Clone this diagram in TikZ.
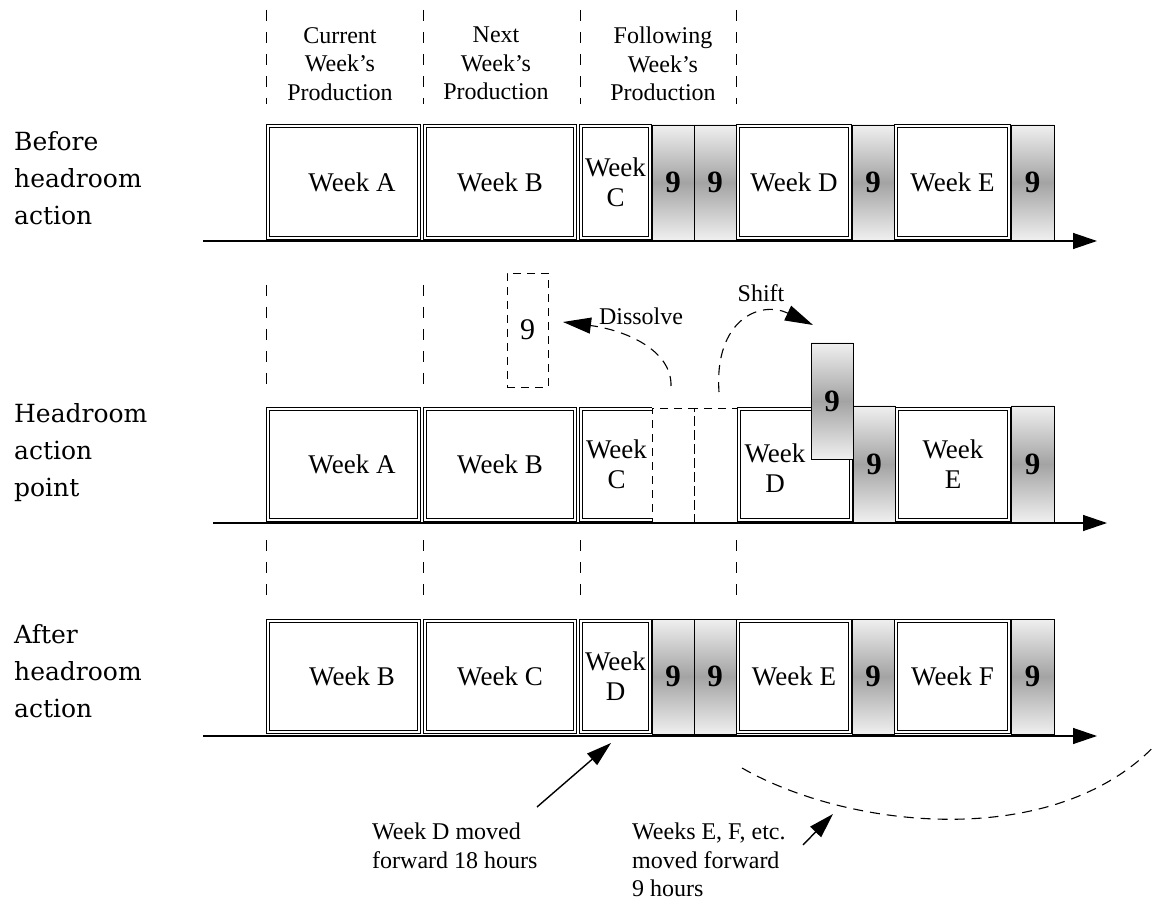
\documentclass[tikz,border=0pt]{standalone}
\usepackage{fontspec}
\setmainfont{Liberation Serif}
\newfontfamily\rowfont{DejaVu Serif}
\usetikzlibrary{arrows.meta}
\begin{document}
\begin{tikzpicture}[x=1pt,y=-1pt,
  wk/.style={draw, line width=0.9pt, double, double distance=2.4pt, anchor=north west, inner sep=0pt, outer sep=0pt, align=center, font=\fontsize{27}{30}\selectfont},
  dbl/.style={draw, line width=0.9pt, double, double distance=2.4pt},
  nine/.style={draw, line width=0.9pt, anchor=north west, inner sep=0pt, outer sep=0pt, top color=gray!12, bottom color=gray!12, middle color=gray!72, font=\fontsize{31}{32}\selectfont\bfseries},
  ghost/.style={draw, dash pattern=on 8pt off 6pt, line width=0.9pt, anchor=north west, inner sep=0pt, outer sep=0pt, font=\fontsize{30}{32}\selectfont},
  guide/.style={draw, dash pattern=on 11pt off 11pt, line width=0.7pt},
  axis/.style={draw, line width=1.3pt, -{Triangle[length=24pt,width=16pt]}},
  rowlabel/.style={anchor=north west, align=left, font=\rowfont\fontsize{25}{37}\selectfont, inner sep=0pt},
  head/.style={anchor=north, align=center, font=\fontsize{24}{28.5}\selectfont, inner sep=0pt},
  note/.style={anchor=north west, align=left, font=\fontsize{24}{28.5}\selectfont, inner sep=0pt},
  txt/.style={inner sep=0pt, align=center, font=\fontsize{27}{30}\selectfont},
  small/.style={inner sep=0pt, font=\fontsize{24}{28}\selectfont},
  curvy/.style={draw, dash pattern=on 10pt off 7pt, line width=1.1pt},
  ctip/.style={-{Triangle[length=28pt,width=16pt]}},
  pointer/.style={draw, line width=1.4pt, -{Triangle[length=25pt,width=15pt]}}
]
\useasboundingbox (0,0) rectangle (1152,901);

% ---------- guide lines ----------
\foreach \gx in {266,423,580,736} {
  \path[guide] (\gx,10) -- (\gx,104);
  \path[guide] (\gx,540) -- (\gx,600);
}
\foreach \gx in {266,423} {
  \path[guide] (\gx,285) -- (\gx,392);
}

% ---------- headers ----------
\node[head] (h1) at (340,27) {Current\\Week's\\Production};
\node[head] (h2) at (496,27) {Next\\Week's\\Production};
\node[head] (h3) at (663,27) {Following\\Week's\\Production};

% ---------- row labels ----------
\node[rowlabel] (l1) at (14,131) {Before\\headroom\\action};
\node[rowlabel] (l2) at (14,403) {Headroom\\action\\point};
\node[rowlabel] (l3) at (14,624) {After\\headroom\\action};

% ---------- row 1 ----------
\node[wk, minimum width=151pt, minimum height=112pt] (r1a) at (268,126) {\hspace*{17pt}Week A};
\node[wk, minimum width=150pt, minimum height=112pt] (r1b) at (425,126) {Week B};
\node[wk, minimum width=69pt, minimum height=112pt] (r1c) at (581,126) {Week\\C};
\node[nine, minimum width=42pt, minimum height=115pt] (r1n1) at (652,125) {9};
\node[nine, minimum width=42pt, minimum height=115pt] (r1n2) at (694,125) {9};
\node[wk, minimum width=112pt, minimum height=112pt] (r1d) at (738,126) {Week D};
\node[nine, minimum width=42pt, minimum height=115pt] (r1n3) at (852,125) {9};
\node[wk, minimum width=113pt, minimum height=112pt] (r1e) at (896,126) {Week E};
\node[nine, minimum width=43pt, minimum height=115pt] (r1n4) at (1011,125) {9};
\coordinate (ax1s) at (203,241);
\coordinate (ax1e) at (1097,241);
\path[axis] (ax1s) -- (ax1e);

% ---------- row 2 ----------
\node[wk, minimum width=151pt, minimum height=111pt] (r2a) at (268,409) {\hspace*{17pt}Week A};
\node[wk, minimum width=150pt, minimum height=111pt] (r2b) at (425,409) {Week B};
\node[anchor=north west, inner sep=0pt, outer sep=0pt, minimum width=71pt, minimum height=111pt, align=center, font=\fontsize{27}{30}\selectfont] (r2c) at (581,409) {Week\\C};
\path[dbl] (r2c.north east) -- (r2c.north west) -- (r2c.south west) -- (r2c.south east);
\node[ghost, minimum width=42pt, minimum height=114pt] (g1) at (652,408) {};
\node[ghost, minimum width=43pt, minimum height=114pt] (g2) at (694,408) {};
\node[wk, minimum width=112pt, minimum height=111pt] (r2d) at (739,409) {};
\node[txt] (r2dt) at (775,468) {Week\\D};
\node[nine, minimum width=42pt, minimum height=116pt] (r2n1) at (853,406) {9};
\node[wk, minimum width=112pt, minimum height=111pt] (r2e) at (897,409) {Week\\E};
\node[nine, minimum width=43pt, minimum height=116pt] (r2n2) at (1011,406) {9};
\node[nine, minimum width=42pt, minimum height=116pt] (s9) at (811,343) {9};
\coordinate (ax2s) at (213,523);
\coordinate (ax2e) at (1107,523);
\path[axis] (ax2s) -- (ax2e);

% dissolved 9
\node[ghost, minimum width=41pt, minimum height=114pt] (d9) at (507,273) {9};
\node[small] (dis) at (641,316) {Dissolve};
\node[small] (shf) at (761,293) {Shift};
\coordinate (dsS) at (671,386);
\coordinate (dsE) at (563,322);
\path[curvy, ctip] (dsS) .. controls (672,350) and (625,330) .. (dsE);
\coordinate (shS) at (719,392);
\coordinate (shE) at (813,325);
\path[curvy, ctip] (shS) .. controls (714,320) and (760,300) .. (shE);

% ---------- row 3 ----------
\node[wk, minimum width=151pt, minimum height=111pt] (r3b) at (268,621) {\hspace*{17pt}Week B};
\node[wk, minimum width=150pt, minimum height=111pt] (r3c) at (425,621) {Week C};
\node[wk, minimum width=69pt, minimum height=111pt] (r3d) at (581,621) {Week\\D};
\node[nine, minimum width=42pt, minimum height=115pt] (r3n1) at (652,619) {9};
\node[nine, minimum width=42pt, minimum height=115pt] (r3n2) at (694,619) {9};
\node[wk, minimum width=112pt, minimum height=111pt] (r3e) at (738,621) {Week E};
\node[nine, minimum width=42pt, minimum height=115pt] (r3n3) at (852,619) {9};
\node[wk, minimum width=113pt, minimum height=111pt] (r3f) at (896,621) {Week F};
\node[nine, minimum width=43pt, minimum height=115pt] (r3n4) at (1011,619) {9};
\coordinate (ax3s) at (203,736);
\coordinate (ax3e) at (1097,736);
\path[axis] (ax3s) -- (ax3e);

% ---------- notes ----------
\node[note] (n1) at (372,823) {Week D moved\\forward 18 hours};
\node[note] (n2) at (632,823) {Weeks E, F, etc.\\moved forward\\9 hours};
\coordinate (p1s) at (537,807);
\coordinate (p1e) at (611,743);
\path[pointer] (p1s) -- (p1e);
\coordinate (p2s) at (803,845);
\coordinate (p2e) at (833,814);
\path[pointer] (p2s) -- (p2e);
\coordinate (cvS) at (742,768);
\coordinate (cvE) at (1160,740);
\path[curvy] (cvS) .. controls (850,830) and (1060,852) .. (cvE);
\end{tikzpicture}
\end{document}
